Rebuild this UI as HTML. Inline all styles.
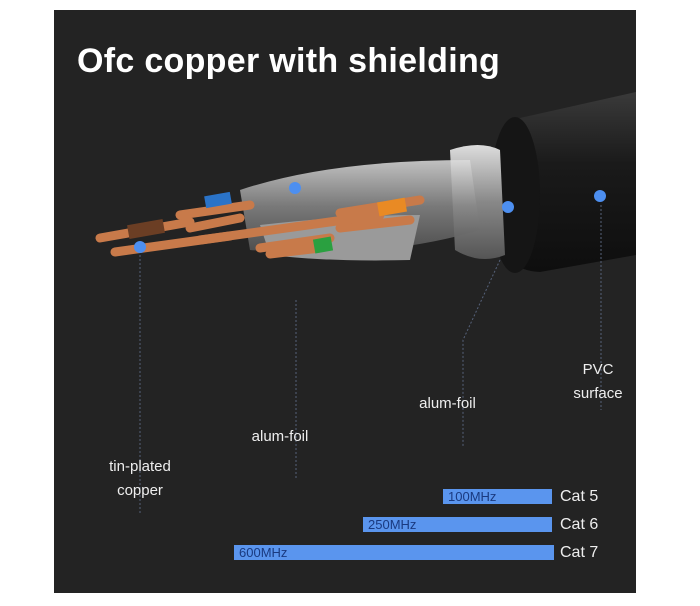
<!DOCTYPE html>
<html><head><style>
body{margin:0;background:#fff;width:700px;height:606px;overflow:hidden;position:relative;font-family:"Liberation Sans",sans-serif}
#p{position:absolute;left:54px;top:10px;width:582px;height:583px;background:#232323}
.t{position:absolute;color:#eee;font-size:15px;text-align:center;line-height:24px}
.bar{position:absolute;background:#5a95ee;color:#1a3a80;font-size:13px;line-height:15px;height:15px;padding-left:5px;box-sizing:border-box}
</style></head><body>
<div id="p"></div>
<svg width="700" height="606" style="position:absolute;left:0;top:0">
<defs>
<linearGradient id="j" x1="0" y1="0" x2="0" y2="1"><stop offset="0" stop-color="#3a3a3a"/><stop offset=".4" stop-color="#1a1a1a"/><stop offset="1" stop-color="#0e0e0e"/></linearGradient>
<linearGradient id="s" x1="0" y1="0" x2="0" y2="1"><stop offset="0" stop-color="#ddd"/><stop offset=".5" stop-color="#888"/><stop offset="1" stop-color="#555"/></linearGradient>
</defs>
<path d="M520 118 L636 92 L636 255 L540 272 Q490 270 490 195 Q495 125 520 118Z" fill="url(#j)"/>
<ellipse cx="515" cy="195" rx="25" ry="78" fill="#151515"/>
<path d="M450 150 Q480 140 500 150 L505 255 Q480 265 455 250Z" fill="url(#s)"/>
<path d="M240 190 Q330 160 470 160 L480 230 Q380 260 250 250Z" fill="url(#s)" opacity=".85"/>
<path d="M260 225 Q350 215 420 215 L410 260 Q330 262 270 255Z" fill="#9a9a9a"/>
<g stroke="#c87a4a" stroke-width="9" stroke-linecap="round">
<line x1="100" y1="238" x2="190" y2="222"/>
<line x1="115" y1="252" x2="230" y2="236"/>
<line x1="180" y1="215" x2="250" y2="205"/>
<line x1="190" y1="228" x2="240" y2="218"/>
<line x1="260" y1="248" x2="330" y2="238"/>
<line x1="270" y1="254" x2="320" y2="248"/>
<line x1="340" y1="213" x2="420" y2="200"/>
<line x1="340" y1="228" x2="410" y2="220"/>
<line x1="200" y1="240" x2="380" y2="215"/>
</g>
<rect x="128" y="222" width="36" height="14" fill="#6b3e24" transform="rotate(-10 146 229)"/>
<rect x="205" y="194" width="26" height="12" fill="#2a73c8" transform="rotate(-10 218 200)"/>
<rect x="378" y="200" width="28" height="14" fill="#e98a24" transform="rotate(-10 392 207)"/>
<rect x="314" y="238" width="18" height="14" fill="#2aa040" transform="rotate(-10 323 245)"/>
<g fill="#4d8ff0"><circle cx="140" cy="247" r="6"/><circle cx="295" cy="188" r="6"/><circle cx="508" cy="207" r="6"/><circle cx="600" cy="196" r="6"/></g>
<g stroke="#56627a" stroke-width="1" stroke-dasharray="2 2" fill="none">
<line x1="140" y1="255" x2="140" y2="515"/>
<line x1="296" y1="300" x2="296" y2="478"/>
<polyline points="500,260 463,340 463,447"/>
<line x1="601" y1="205" x2="601" y2="410"/>
</g>
</svg>
<div style="position:absolute;left:77px;top:42px;color:#fff;font-size:34px;font-weight:bold;letter-spacing:0.3px">Ofc copper with shielding</div>
<div class="t" style="left:90px;top:455px;width:100px">tin-plated<br>copper</div>
<div class="t" style="left:230px;top:425px;width:100px">alum-foil</div>
<div class="t" style="left:400px;top:392px;width:95px">alum-foil</div>
<div class="t" style="left:553px;top:358px;width:90px">PVC<br>surface</div>
<div class="bar" style="left:443px;top:489px;width:109px">100MHz</div>
<div class="bar" style="left:363px;top:517px;width:189px">250MHz</div>
<div class="bar" style="left:234px;top:545px;width:320px">600MHz</div>
<div class="t" style="left:560px;top:485px;text-align:left;font-size:16px">Cat 5</div>
<div class="t" style="left:560px;top:513px;text-align:left;font-size:16px">Cat 6</div>
<div class="t" style="left:560px;top:541px;text-align:left;font-size:16px">Cat 7</div>
</body></html>
